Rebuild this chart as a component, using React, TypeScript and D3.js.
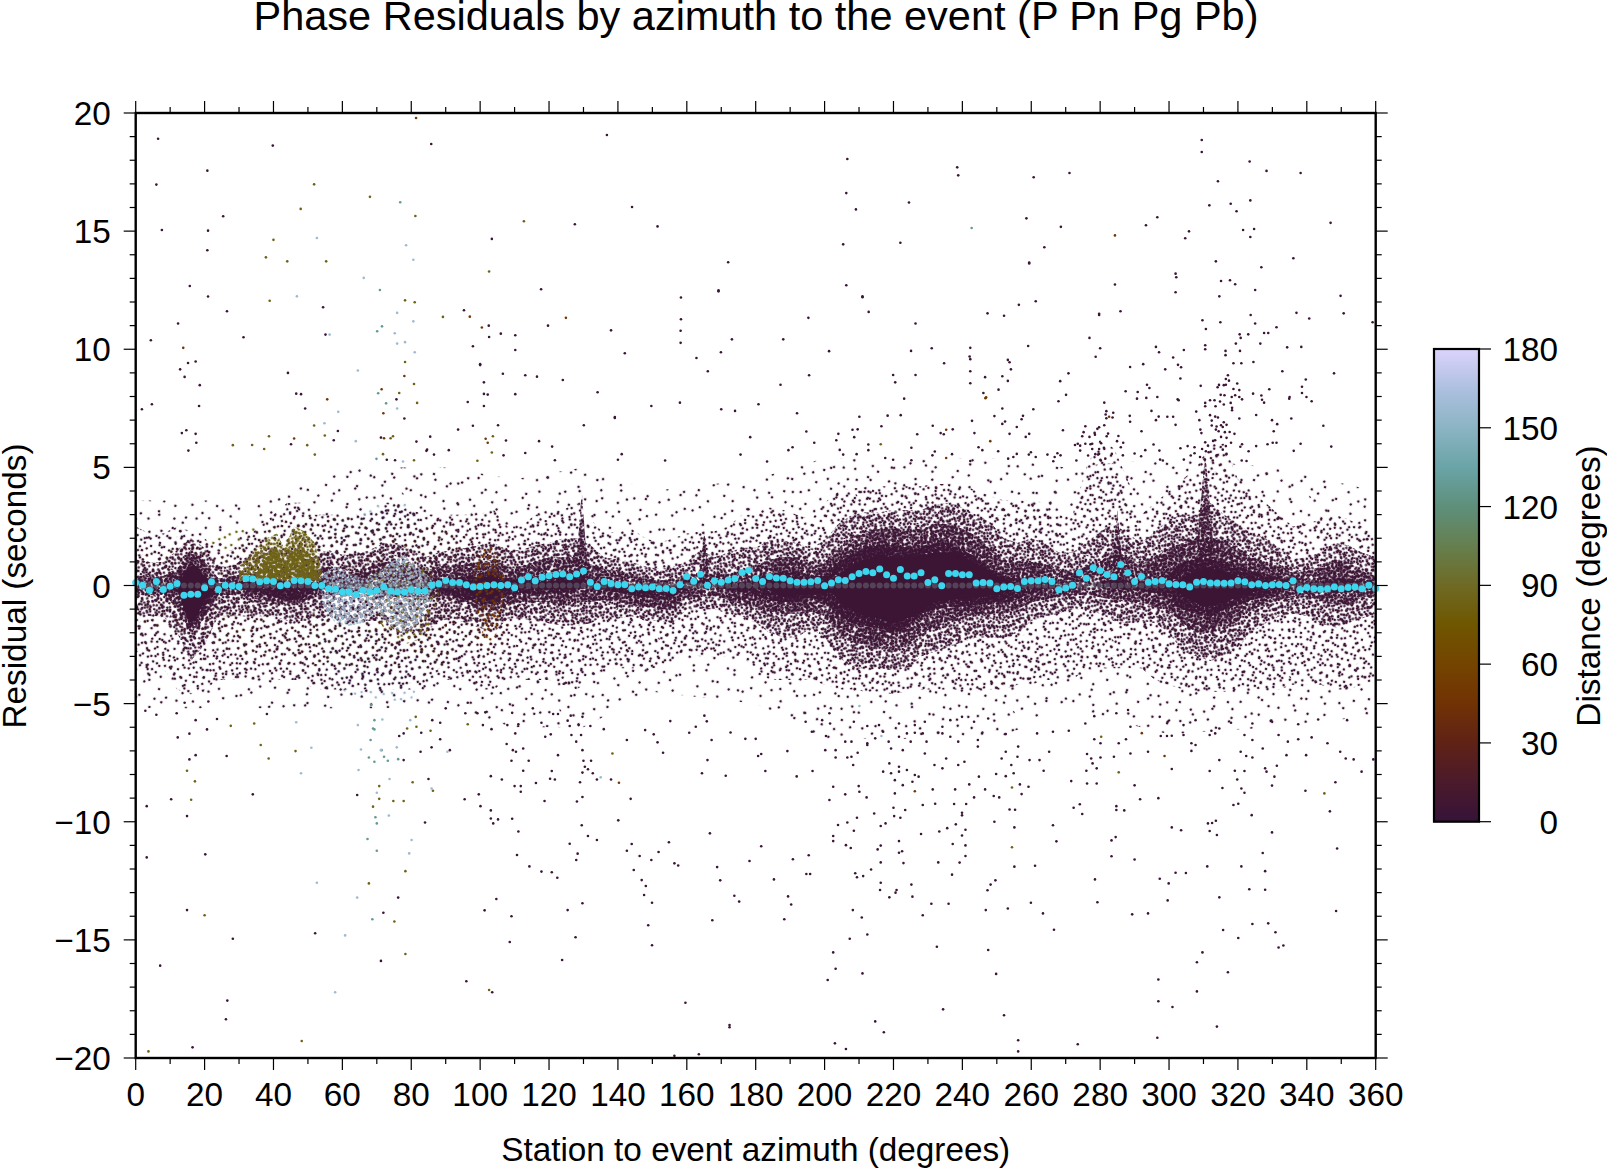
import React from "react";
import * as d3 from "d3";

const TITLE = "Phase Residuals by azimuth to the event (P Pn Pg Pb)";
const X_LABEL = "Station to event azimuth (degrees)";
const Y_LABEL = "Residual (seconds)";
const BAR_LABEL = "Distance (degrees)";

const xMajor = [0,20,40,60,80,100,120,140,160,180,200,220,240,260,280,300,320,340,360];
const xMinor = [10,30,50,70,90,110,130,150,170,190,210,230,250,270,290,310,330,350];
const yMajor = [-20,-15,-10,-5,0,5,10,15,20];
const yMinor = [-19,-18,-17,-16,-14,-13,-12,-11,-9,-8,-7,-6,-4,-3,-2,-1,1,2,3,4,6,7,8,9,11,12,13,14,16,17,18,19];
const barTicks = [0,30,60,90,120,150,180];

const colorDomain = [0,15,30,45,60,75,90,105,120,135,150,165,180];
const colorRange = ["#361339","#4b1a2b","#5f2216","#713204","#744400","#6f5600","#6e6a24","#667f4f","#5e8f7b","#6aa4a7","#8bb4c3","#adc0e0","#dcd3fb"];

// mean residual in 2-degree azimuth bins, azimuth 0..360
const meanResidual = [
.13,.01,-.2,.17,-.17,-.03,.08,-.41,-.37,-.37,-.1,.155,-.17,.01,-.01,-.04,.3,.27,.155,.2,.17,-.01,.04,.21,.2,.17,0,0,-.14,-.155,
-.27,-.27,-.38,-.2,-.28,-.21,-.06,-.24,-.27,-.28,-.18,-.24,-.23,.01,.07,.21,.13,.13,.03,-.06,-.04,0,.03,0,.03,-.1,.23,.37,.2,.35,
.41,.47,.49,.37,.49,.61,.14,-.04,.17,.08,.03,.04,-.14,-.06,-.1,-.06,-.14,-.13,-.21,.03,.38,.18,.48,.01,.2,.14,.23,.3,.55,.65,
.3,.17,.38,.32,.31,.2,.14,.14,.155,.21,-.01,.11,.24,.21,.37,.51,.59,.54,.7,.45,.31,.68,.4,.4,.54,.13,.24,-.01,.51,.51,
.45,.45,.11,.13,.11,-.14,-.06,-.04,-.13,.17,.2,.2,.25,.17,-.18,-.11,.01,.54,.31,.75,.63,.47,.37,.89,.54,.17,.38,.14,.17,.21,
.07,.04,.03,-.06,.14,.17,.11,.11,.1,.11,.2,.155,.03,.07,0,.03,.04,0,.2,-.17,-.08,-.14,-.155,-.14,-.06,-.14,-.08,-.06,-.14,.01,-.13];

// cloud outlines read per 4 degrees of azimuth: sparse / medium / dense / very dense, upper and lower limits
const bandOuterUp = [2.5,2.2,2.2,2.5,2.3,2,1.5,1.5,2,2.5,3,3.5,3.5,3,3,3,3,3,3.5,3.5,3.2,3,3,3,3,3.2,3.2,2.5,2.5,3,3,3.2,3.5,2.8,2.2,2.3,2.4,2,1.8,2,2.2,2.3,2.3,2.5,3,3,3.3,3.2,3,2.8,3.5,4,4.1,4.2,4.2,4.2,4.2,4.2,4.3,4.3,4.3,4,3.8,3.6,3.6,3.6,3.5,3,3,5,6.2,5.8,4.5,3,3.5,4,4.5,5,6,6,4.5,4,3.5,3,2.5,2.6,2.8,3,2.8,2.5,2.3];
const bandOuterDn = [-3.5,-4,-3.5,-4.4,-4.6,-4.4,-4,-4,-4,-4,-4,-4,-4,-4.4,-4.4,-4.4,-4.4,-4.4,-4.4,-4.4,-4.4,-4.4,-4,-4,-4,-4.4,-4.4,-4,-4,-4,-4,-4.2,-4.4,-4,-3.5,-3.5,-3.5,-3.5,-3.5,-3,-2.8,-3,-3,-3,-3,-3.5,-4,-4,-4,-4,-4.2,-4.4,-4.4,-4.5,-4.5,-4.6,-4.5,-4.4,-4.4,-4.4,-4.4,-4.4,-4.4,-4.4,-4.2,-4.2,-4,-4,-4,-3.5,-3.5,-3.5,-3.5,-3.5,-4,-4.2,-4.4,-4.5,-4.5,-4.5,-4.4,-4.4,-4.4,-4.4,-4.2,-4.2,-4.2,-4.4,-4.4,-4.2,-4];
const bandMidUp = [1.1,1,1,1.5,2,1.6,.8,.8,1.2,1.5,1.5,1.5,1.5,1.3,1.5,1.3,1.3,1.5,1.8,1.8,1.5,1.2,1.4,1.5,1.6,1.7,1.8,1.5,1.5,1.7,1.8,2,2,1.7,1.2,1.1,1,.8,.7,.8,1,1.5,1.2,1.4,1.6,1.6,1.9,1.9,1.8,1.6,1.9,2.6,3,3.1,3.1,3.2,3.2,3.2,3.4,3.5,3.3,3,2.7,2,1.8,2,1.8,1.4,1.4,1.8,2.3,2.6,2.2,1.8,2.3,2.8,3,3,3.5,3,2.6,2.2,2,1.6,1.1,1.2,1.4,1.8,1.7,1.4,1.2];
const bandMidDn = [-1.2,-1.3,-1.3,-2,-3.2,-2.5,-1.3,-1.3,-1.3,-1.3,-1.3,-1.5,-1.5,-1.5,-1.3,-1.5,-1.5,-1.5,-1.5,-2,-2,-2,-1.5,-1.4,-1.6,-1.8,-2,-1.4,-1.4,-1.5,-1.6,-1.7,-1.7,-1.6,-1.3,-1.4,-1.3,-1.5,-1.5,-1.6,-1,-1,-1,-1.2,-1.3,-1.6,-2,-2.2,-2.2,-1.8,-2.2,-3,-3.5,-3.5,-3.5,-3.6,-3.5,-3,-2.8,-2.6,-2.4,-2.2,-2.2,-2.2,-2,-1.5,-1.3,-1.2,-1,-1,-1.2,-1.5,-1.6,-1.5,-1.6,-2,-2.8,-3,-3.2,-3,-2.6,-2,-1.6,-1.3,-1.2,-1.3,-1.6,-1.8,-1.6,-1.4,-1.2];
const bandDenseUp = [.4,.4,.4,.7,1.5,1,.3,.4,.5,.6,.7,.7,.7,.6,.8,.5,.5,.8,1,1,.8,.6,.8,.8,.9,1,1.1,.8,.8,1,1.2,1.2,1.2,.9,.7,.6,.5,.3,.2,.3,.4,.5,.5,.5,.6,.9,1.1,1.2,1.2,.9,1,1.6,2.1,2.3,2.4,2.4,2.3,2.4,2.6,2.6,2.4,2.1,1.6,1.1,1,1,.9,.7,.6,.8,1,1.5,1.2,.9,1.2,1.6,1.8,2,2,1.9,1.6,1.2,1,.9,.5,.6,.8,1,1,.6,.4];
const bandDenseDn = [-.4,-.4,-.4,-.9,-2,-1.4,-.4,-.4,-.5,-.6,-.7,-.8,-.7,-.5,-.4,-.4,-.3,-.3,-.4,-.5,-.5,-.5,-.5,-.6,-.7,-1.1,-1.1,-.8,-.7,-.7,-.7,-.8,-.7,-.7,-.6,-.7,-.8,-.9,-1,-1,-.5,-.5,-.4,-.6,-.8,-.9,-1.1,-1.2,-1.2,-1.1,-1.3,-2,-2.4,-2.5,-2.6,-2.8,-2.5,-2,-1.8,-1.5,-1.4,-1.2,-1.2,-1.2,-1,-.7,-.6,-.5,-.4,-.4,-.5,-.6,-.7,-.7,-.9,-1.1,-1.6,-2,-2,-1.8,-1.5,-1,-.8,-.6,-.5,-.5,-.6,-.8,-.8,-.5,-.4];
const bandCoreUp = [0,0,0,.2,1,.5,.1,.1,.15,.2,.2,.2,.2,.1,0,0,0,0,0,0,0,0,.2,.3,.4,.5,.6,.3,.2,.4,.5,.6,.5,.3,.1,.1,0,0,0,0,0,0,0,.1,.1,.2,.5,.6,.6,.4,.4,1,1.3,1.6,1.7,1.7,1.6,1.6,1.8,1.8,1.5,1.2,.7,.4,.3,.2,.2,0,0,0,.1,.3,.2,.2,.3,.6,1,1.1,1.1,1,.8,.6,.5,.3,.1,.1,.1,.3,.3,.1,0];
const bandCoreDn = [0,0,0,-.2,-1.8,-.9,-.1,-.1,-.2,-.3,-.5,-.6,-.6,-.2,0,0,0,0,0,0,0,0,-.2,-.5,-.6,-.7,-.8,-.4,-.3,-.4,-.3,-.3,-.2,-.1,-.2,-.3,-.4,-.5,-.6,-.5,0,0,0,-.2,-.3,-.4,-.6,-.7,-.7,-.5,-.7,-1.2,-1.6,-1.7,-1.8,-2,-1.8,-1.2,-1,-.9,-.9,-.8,-.7,-.7,-.6,-.3,-.2,-.1,0,0,0,-.1,-.2,-.2,-.3,-.6,-1,-1.2,-1.3,-1,-.8,-.6,-.5,-.3,0,0,-.1,-.3,-.3,-.1,0];

// where the cloud closes up completely
const solidAz = [12,15,17,20,24,92,100,104,108,118,126,132,182,188,194,202,206,212,216,220,226,232,238,244,250,258,300,306,310,316,322,330,336,346,350,356];
const solidUp = [0,.7,.9,.3,0,0,.3,.4,0,.15,.25,0,0,.4,.3,.1,.7,1.1,1.3,1.2,1.2,1.4,1.4,.9,.4,0,0,.5,.7,.6,.3,0,0,0,.1,0];
const solidDn = [0,-1.4,-1.5,-.6,0,0,-.5,-.6,0,-.15,-.15,0,0,-.5,-.4,-.3,-.9,-1.3,-1.4,-1.6,-1.3,-.7,-.6,-.5,-.4,0,0,-.6,-.9,-.7,-.4,0,0,0,-.1,0];

// thin scatter between the cloud and the isolated stations
const fringeAz = [0,30,60,90,110,130,150,180,200,250,270,300,330,360];
const fringeUp = [3.6,3.6,5,5,4.5,5,4,4.5,5.4,5.4,5,5.4,5,4];
const fringeDn = [-5.2,-5.2,-5.2,-5.2,-6,-6,-4.5,-5,-6.5,-6.5,-5.2,-6.3,-6,-5.5];

// narrow vertical streaks in the cloud
const streakAz = [129.5,165,285,310.5];
const streakHalfWidth = [2,1.6,2,3.4];
const streakTop = [4,2.4,3.2,5.6];

// coloured parts of the cloud: azimuth, upper limit, lower limit
const oliveDenseAz = [30,34,38,41,43,46,49,52,54];
const oliveDenseHi = [.8,1.4,2,2.2,1.6,2.5,2.3,1.8,.6];
const oliveDenseLo = [.2,.2,.2,.2,.2,.2,.2,.2,.2];
const oliveCoreAz = [35,38,41,43,45,48,51,53];
const oliveCoreHi = [.5,1.2,1.6,.8,1.3,1.7,1.2,.4];
const oliveCoreLo = [.25,.25,.25,.25,.25,.25,.25,.25];
const oliveSparseAz = [0,12,30,56,90,112];
const oliveSparseHi = [1.5,1.5,2.4,3,2.5,.8];
const oliveSparseLo = [-1.5,-2,-3,-3.5,-3.5,-.8];
const oliveMidAz = [66,72,78,84,88];
const oliveMidHi = [.2,.8,1,.8,.2];
const oliveMidLo = [-.5,-1.8,-2.5,-2.2,-.5];
const blueMidAz = [54,58,62,66,70,74,78,82,86];
const blueMidHi = [.5,.8,.5,.3,.5,1,1.3,.8,.2];
const blueMidLo = [-.8,-1.6,-1.7,-1.6,-1.1,-1.7,-2,-1.6,-.6];
const blueSparseAz = [52,60,70,80,88];
const blueSparseHi = [2,3,3.5,3.5,1];
const blueSparseLo = [-2.5,-4.5,-4.9,-4.9,-2];
const brownSparseAz = [66,72,80,88,96,100,106,112];
const brownSparseHi = [1,2,2,1.5,1,1.6,1.6,.5];
const brownSparseLo = [-1,-2.5,-3,-2.5,-1,-3,-3,-.6];
const brownMidAz = [98,101,104,107];
const brownMidHi = [.5,1.6,1.6,.4];
const brownMidLo = [-.5,-2.2,-2.5,-.5];

// stations far from the cloud: [azimuth, residual]; distance class sets the colour
const NEAR_DISTANCE = 4;
const nearPoints: [number, number][] = [
[6.5,18.91],[39.8,18.62],[85.8,18.69],[136.8,19.07],[20.8,17.56],[6,16.97],[144.1,16.02],[25.4,15.63],[127.5,15.29],[151.5,15.2],[7.6,15.05],[21,15.02],[103.4,14.67],[20.8,14.19],[172,13.68],[15.7,12.68],[117.7,12.54],[169.2,12.45],[169.2,12.49],[21,12.23],[158.3,12.19],[54.4,11.78],[26.5,11.61],[95.3,11.65],[12.3,11.09],[158.3,11.27],[119.7,11],[102.5,11],[158.2,10.78],[138,10.8],[55.1,10.62],[106,10.66],[110.2,10.59],[102.6,10.52],[31.3,10.51],[4.4,10.38],[158.2,10.27],[173.1,10.42],[97.9,10.13],[110.2,9.97],[142,9.83],[169.9,9.87],[162.8,9.63],[15.2,9.42],[17.4,9.48],[100,9.37],[100,9.33],[12.9,9.15],[166.1,9.07],[14.2,8.83],[44.2,9],[106.6,8.96],[113.1,8.9],[116.5,8.84],[124,8.7],[101.1,8.6],[18.6,8.48],[46.6,8.12],[48,8.1],[101.1,8.11],[102.2,8.08],[110.2,8.1],[134.1,8.18],[75.7,7.88],[96.4,7.77],[4.7,7.67],[18.4,7.6],[1.8,7.46],[49.2,7.49],[101.1,7.6],[149.7,7.6],[158,7.74],[170,7.46],[174,7.39],[78,7.07],[139.1,7.09],[139.1,7.13],[130.1,6.78],[97.9,6.76],[105.2,6.78],[93.6,6.6],[58.7,6.54],[14.7,6.57],[13.4,6.45],[17.4,6.42],[17.6,6.04],[71.2,6.26],[85.5,6.3],[81.5,6.09],[107.5,6.14],[117.1,6.11],[120.9,5.88],[57.5,6.15],[45.1,5.98],[15.3,5.71],[84.4,5.7],[84.6,5.75],[86.6,5.54],[90.9,5.73],[106.8,5.51],[113.1,5.61],[141.1,5.56],[175.6,5.54],[178.4,6.28],[72.9,5.32],[75.3,5.3],[121.7,5.3],[140,5.32],[153.7,5.29],
[206.6,18.05],[206.3,16.61],[209.1,15.92],[224.5,16.21],[205.4,14.44],[222,14.51],[238.5,17.7],[238.8,17.36],[260.7,17.28],[271.1,17.46],[258.6,15.54],[268.6,15.18],[263.8,14.32],[259.4,13.67],[259.4,13.63],[309.5,18.86],[309.5,18.35],[323.4,17.95],[328.3,17.55],[338.2,17.46],[314.2,17.11],[311.7,16.09],[317.9,16.16],[323.6,16.3],[319.6,15.84],[296.6,15.59],[293.3,15.25],[305.8,14.99],[304.7,14.7],[321.5,15.05],[324.7,15.09],[323.6,14.75],[346.9,15.35],[336.1,13.85],[313.6,13.72],[326.8,13.47],[301.9,13.2],[302.1,13.05],[315.1,12.89],[317.7,12.92],[319.2,12.75],[284.3,12.74],[325,12.51],[206.3,12.71],[211,12.24],[211,12.2],[301.9,12.41],[314.6,12.24],[349.8,12.26],[261.3,12.03],[256.4,11.88],[247.3,11.52],[252.1,11.42],[212.8,11.58],[279.7,11.5],[279.7,11.45],[285.9,11.61],[337,11.54],[350.7,11.52],[340.7,11.3],[323.7,11.45],[195.3,11.33],[226.4,11.09],[309.7,11.23],[314.9,11.14],[310.7,10.86],[325,11.09],[331.2,10.93],[359.1,11.14],[320.5,10.63],[323,10.63],[327.6,10.69],[328.8,10.69],[320.8,10.48],[188,10.42],[276.9,10.48],[319.4,10.24],[326.5,10.24],[259.1,10.14],[296.2,10.1],[310.5,10.17],[310.5,10],[334.3,10.08],[338.4,10.1],[201.3,9.92],[225.1,9.93],[231.1,10.04],[242.3,10.06],[280,10.04],[242.1,9.69],[242.3,9.58],[304.3,9.97],[297.1,9.87],[316.4,9.93],[316.4,9.75],[320.6,9.93],[278.7,9.68],[301.2,9.65],[253.2,9.55],[253.7,9.45],[234.7,9.41],[318.7,9.41],[321,9.41],[324.5,9.46],[292.5,9.37],[288.7,9.25],[302.6,9.34],[303.5,9.24],[254.1,9.15],[298.9,9.15],[242.3,9.07],[332.9,9.07],[270.8,8.98],[226.4,8.91],[219.9,8.91],[195.5,8.9],[347.9,8.98],[246.6,8.82],[251.6,8.86],[303.3,8.76],[253.2,8.66],[268.4,8.65],[220.5,8.6],[242.3,8.56],[187.2,8.5],[339.7,8.72],[317.1,8.9],[316.5,8.74],[317.4,8.67],[319.8,8.55],[293.6,8.5],[294.3,8.36],[309.2,8.45],[314.5,8.49],[314.1,8.39],[315.9,8.48],[316.5,8.5],[338.6,8.41],[318.7,8.32],[320.4,8.27],[329.1,8.31],[250.5,8.29],[287.4,8.22],[290.9,8.19],[246.1,8.15],[338.6,8.15],[324.4,8.12],[270.1,8.07],[315,8.07],[316.1,8.05],[319.2,8.05],[318.2,7.98],[320.4,7.98],[321.2,7.88],[326.8,8.04],[327,7.86],[327.6,7.74],[339.9,7.98],[341.4,7.8],[335,7.98],[334.9,7.91],[223.1,7.91],[290.7,7.91],[293.4,7.94],[296.6,7.98],[302.5,7.88],[302.8,7.84],[267.9,7.8],[281.2,7.74],[180.8,7.67],[310.5,7.73],[310.5,7.59],[311.9,7.84],[313.2,7.84],[314.8,7.79],[313.5,7.59],[315.9,7.66],[317.9,7.73],[318.3,7.52],[318.3,7.42],[251.6,7.49],[260.6,7.46],[281.8,7.38],[281.6,7.24],[283.8,7.31],[283.6,7.11],[281.8,7.08],[294.9,7.39],[307.9,7.36],[192,7.29],[249.3,7.17],[210.1,7.14],[218.3,7.19],[222.1,7.21],[288.6,7.18],[297,7.15],[299.5,7.14],[301.2,7.14],[296.2,7],[311.9,7.21],[313.4,7.15],[314.2,7.11],[308.8,7],[320.4,7.07],[325.3,7.22],[329.9,7],[335.5,7.07],[242.8,6.97],[257.2,7.04],[257.6,7.18],[252.4,6.94],[251.6,6.84],[288.7,6.93],[301.9,6.8],[331.4,6.83],[344.8,6.76],[312.4,6.98],[315.9,6.91],[315.1,6.78],[312.4,6.77],[316.7,6.8],[313.8,6.73],[315.6,6.71],[231.4,6.76],[237.2,6.61],[216.5,6.74],[255.8,6.71],[281.2,6.78],[275.7,6.74],[279.7,6.7],[279.2,6.63],[208.1,6.59],[209.6,6.61],[194.7,6.52],[243.5,6.45],[233.7,6.45],[234.6,6.4],[226.9,6.4],[204,6.42],[208.6,6.28],[253.7,6.42],[259.4,6.42],[258.4,6.29],[269.2,6.57],[275.2,6.49],[278.4,6.46],[282.3,6.43],[292,6.53],[309.1,6.6],[309.4,6.45],[313.6,6.6],[314.4,6.53],[316.2,6.49],[317.6,6.5],[319,6.42],[330.4,6.53],[274.8,6.32],[276.9,6.29],[278.5,6.38],[281.9,6.32],[285.3,6.33],[315.1,6.29],[316.7,6.25],[313.4,6.15],[203.4,6.15],[197,6.04],[212.7,5.97],[212.7,5.73],[204.4,5.74],[205.4,5.54],[209.3,5.56],[190.7,5.85],[189.5,5.73],[183.3,5.25],[225.2,5.83],[219.9,5.32],[217.6,5.4],[225.2,5.3],[244.7,5.85],[245.8,5.73],[250.4,5.68],[231.3,5.51],[232,5.67],[237,5.56],[242.3,5.27],[272.7,5.95],[273.5,6],[274.2,5.92],[275.7,6],[277.2,5.98],[277.7,6],[280.3,6.02],[284.9,6.11],[286.7,6.04],[295.5,5.97],[274.2,5.71],[277.7,5.78],[279.7,5.78],[281.1,5.83],[286,5.85],[283.4,5.57],[286.6,5.51],[290,5.59],[291.9,5.47],[293.1,5.73],[297.2,5.71],[303.3,5.81],[305.4,5.9],[307.4,5.85],[306.3,5.5],[307.4,5.6],[309.6,5.78],[310.5,6.06],[311.3,5.92],[312.8,6.12],[316.5,5.9],[318,6.04],[321.2,5.98],[320.7,5.87],[323.1,5.68],[325.3,5.9],[328.6,5.98],[330.1,6.04],[331.2,6.04],[338.2,6],[347.1,5.88],[336.2,5.7],[253.3,5.37],[254.8,5.44],[255.8,5.57],[259.3,5.54],[259.9,5.64],[261.3,5.44],[264.7,5.54],[266.8,5.44],[267.6,5.6],[268.5,5.51],[266.4,5.26],[273.1,5.29],[276.5,5.5],[278.6,5.56],[279.4,5.54],[280.2,5.29],[281.5,5.37],[297.4,5.33],[298.2,5.29],[304.3,5.33],[309,5.44],[310.4,5.33],[311.5,5.64],[312.7,5.29],[313.8,5.51],[316.7,5.57],[321.1,5.29],[322.5,5.27],[310.7,5.68],[315.6,5.75],
[2.8,-5.3],[6,-5.47],[11.9,-5.41],[17.4,-5.7],[23.6,-5.65],[20.7,-6.09],[15.6,-6.27],[12.2,-6.43],[17.4,-7.18],[15.6,-7.36],[26.4,-7.22],[38.1,-5.44],[14.2,-4.96],[21.1,-4.91],[34,-8.84],[10.3,-9.05],[3.2,-9.34],[14.9,-9.76],[3.2,-11.51],[20.2,-11.38],[14.9,-13.74],[28.2,-14.95],[7.1,-16.09],[26.6,-17.57],[26.2,-18.36],[16.5,-19.55],[52.1,-14.72],[64.3,-8.87],[76.2,-13.21],[71.9,-13.85],[71.2,-15.89],[96,-16.75],[103.5,-17.22],[104.7,-13.27],[101.3,-13.75],[109.1,-14],[129.7,-13.45],[125.4,-13.74],[108.6,-15.09],[127.7,-14.89],[123.8,-15.85],[148.8,-14.38],[149.9,-15.23],[149.9,-13.43],[147.6,-13.1],[148.1,-12.72],[146.9,-12.47],[144.6,-12.04],[149.7,-11.62],[151.8,-11.28],[146.3,-11.45],[142.6,-11.23],[144,-10.94],[154.8,-10.87],[156.4,-11.76],[157.5,-11.85],[168.8,-11.92],[169.7,-12.48],[178.2,-11.66],[185.3,-12.44],[190.8,-11.59],[195.4,-11.42],[194.7,-12.21],[195.8,-12.21],[181.6,-11.04],[166.7,-10.49],[173.8,-13.13],[175.2,-13.38],[189.4,-13.16],[190.3,-13.5],[167.4,-14.17],[188.3,-14.13],[159.6,-17.66],[172.4,-18.7],[172.4,-18.6],[156.4,-19.91],[163.5,-19.84],[208.2,-13.74],[210.8,-14.05],[212.4,-14.77],[207.3,-14.95],[202.5,-15.53],[203.2,-16.22],[200.9,-16.7],[211,-16.42],[214.7,-18.45],[217.2,-18.91],[203,-19.38],[206.2,-19.62],[234.4,-17.94],[252.1,-18.19],[256.2,-19.25],[256.2,-19.72],[273.5,-19.42],[232.6,-15.29],[247.5,-15.43],[249.8,-16.44],[228.5,-13.96],[246.8,-13.74],[253.2,-13.67],[259.9,-13.43],[263.4,-13.88],[266.6,-14.57],[236,-13.47],[231,-13.47],[225.5,-13.17],[218.8,-13.2],[220.9,-12.89],[220.6,-13],[216.1,-12.89],[225.2,-12.66],[216.3,-12.58],[247.3,-12.9],[248.2,-12.66],[249.6,-12.48],[237,-12.24],[208.9,-12.18],[209.4,-12.35],[211.2,-12.3],[213.5,-12.02],[216.3,-11.72],[222.9,-11.75],[233,-11.72],[239.2,-11.73],[255.1,-11.9],[261.1,-11.86],[240.9,-11.45],[221.6,-11.31],[222.5,-11.25],[215.4,-11.17],[216.3,-11.01],[207.6,-11.11],[206.2,-10.99],[221.6,-10.82],[237.2,-10.94],[240.9,-11],[202.5,-10.6],[202.5,-10.82],[228,-10.52],[233.3,-10.41],[235.6,-10.27],[240.9,-10.34],[239.9,-10.58],[238.1,-10.11],[249.3,-10],[255.1,-10.24],[266.3,-10.15],[267.3,-10.83],[283.3,-10.79],[284.5,-10.65],[283.3,-11.46],[290,-11.6],[278.5,-12.44],[279.2,-13.41],[289.3,-13.92],[293.9,-13.88],[297.3,-12.41],[299.9,-12.61],[301.9,-12.16],[304.9,-12.17],[299.6,-13.33],[311.1,-11.89],[321,-11.89],[327.9,-12.09],[314.6,-13.2],[323.3,-12.86],[327.9,-12.88],[324.2,-14.33],[328.8,-14.3],[330.9,-14.68],[315.7,-14.58],[320.1,-14.92],[331.8,-15.32],[333.2,-15.24],[309.7,-15.53],[308.1,-15.95],[317.1,-16.37],[296.9,-16.68],[308.1,-17.18],[296.9,-17.6],[301,-17.84],[313.9,-18.67],[296.6,-19.14],[348.5,-13.78],[327.2,-11.32],[348.8,-11.13],[313.6,-9.96],[311.3,-10.07],[312.5,-10.05],[300.8,-10.24],[303.5,-10.36],[311.8,-10.39],[313.9,-10.56],[329.9,-10.45],[324,-9.72],[346.7,-9.56],[318.7,-9.29],[320.1,-9.24],[296.9,-9],[291.6,-9.05],[284.7,-9.34],[284.7,-9.5],[287,-9.52],[272.3,-9.41],[274.1,-9.26],[274.8,-9.67],[253.7,-9.48],[255.3,-9.49],[239.9,-9.62],[239.9,-9.73],[237.6,-9.25],[241.1,-9.25],[232.1,-9.24],[228.5,-9.29],[220,-9.41],[223.4,-9.5],[214.4,-9.65],[222,-9.83],[220.2,-9.76],[209.4,-9.83],[206.6,-10.03],[203.9,-10.14],[216.3,-10.18],[217.7,-10.07],[208.5,-10.38],[143.7,-9.03],[129.7,-8.95],[128.1,-9.14],[118.7,-9.12],[95.5,-9.05],[99.6,-8.84],[100.1,-9.34],[103.1,-9.52],[103.1,-9.86],[105.2,-9.9],[103.8,-10.07],[109.3,-9.87],[84,-10.03],[111.1,-10.41],[129.5,-10.15],[140.1,-9.94],[131.3,-10.6],[133.9,-10.77],[126,-10.93],[128.3,-11.35],[127.9,-11.62],[110.7,-11.41],[114.3,-11.89],[117.8,-12.11],[120.8,-12.14],[122.4,-12.37],
[85,-8.19],[110.2,-6.26],[107.7,-6.71],[109.5,-6.97],[112.5,-6.9],[110.4,-7.04],[109.1,-7.42],[114.1,-7.42],[112.5,-7.84],[103.1,-8.07],[106.3,-8.21],[110,-8.49],[111.8,-8.49],[111.8,-8.73],[116.2,-8.36],[120.8,-7.85],[120.3,-8.18],[121.7,-8.21],[129,-8.33],[129.7,-7.92],[130.4,-7.67],[130,-7.42],[132.2,-7.42],[131.3,-7.78],[132.7,-7.95],[133.9,-8.21],[138,-8.21],[122.6,-7.18],[129.7,-6.97],[127.9,-6.61],[126.5,-6.33],[129.3,-6.33],[126,-5.95],[128.6,-5.91],[132,-5.95],[125.4,-5.72],[129.7,-5.56],[126.3,-5.51],[122.6,-5.44],[121.2,-5.44],[117.8,-5.81],[111.1,-5.87],[107.9,-5.91],[103.3,-6.08],[100.8,-5.91],[118.9,-6.4],[120.5,-6.3],[135.9,-6.08],[142.6,-6.54],[147.9,-6.12],[150.4,-6.3],[151.5,-6.64],[153.1,-7.08],[155.2,-5.74],[160.7,-6.23],[162.6,-5.98],[165.1,-5.51],[165.8,-5.75],[167.2,-6.54],[172.7,-6.22],[177,-6.49],[180,-6.49],[189.2,-7.01],[181.6,-7.13],[180.7,-7.22],[166,-7.39],[164.4,-7.95],[171.3,-8.05],[182.8,-7.85],[191.9,-8.08],[196.5,-7.85],[91.2,-6.97],[82.7,-7.04],[85.9,-6.85],[88.4,-6.51],[76.5,-6.37],[77.8,-7.39],[77.8,-6.26],[82.9,-6.23],[86.1,-5.7],[88.4,-5.81],[90,-5.2],[96.4,-4.96],[99.2,-5.41],[101.5,-5.37],[109.3,-5.39],[115.3,-5.2],[95.7,-5.41],
[196.3,-6.19],[194.5,-5.77],[199.3,-5.7],[201.4,-5.41],[201.6,-5.84],[208.5,-5.77],[212.4,-5.95],[215.8,-5.91],[221.6,-5.84],[226.2,-5.91],[229.1,-5.77],[234.2,-5.98],[236.5,-5.7],[239.9,-5.56],[243.4,-5.77],[247.5,-5.63],[200.4,-6.37],[206,-6.61],[207.8,-6.61],[212.4,-6.68],[217,-6.19],[214.7,-6.47],[218.6,-6.61],[221.6,-6.4],[223.9,-6.26],[226.2,-6.23],[228.5,-6.26],[225,-6.61],[219.3,-6.9],[222.7,-6.97],[229.6,-6.61],[234.2,-6.26],[236.5,-6.4],[238.8,-6.61],[244.5,-6.54],[252.6,-6.29],[256.2,-6.82],[261.7,-6.26],[266.3,-6.19],[200.2,-6.97],[203.2,-6.97],[203.2,-7.28],[206.6,-7.28],[207.8,-7.25],[209.6,-7.08],[212.4,-6.75],[208.3,-7.6],[229.1,-7.11],[231.9,-7.6],[234.2,-7.74],[238.8,-7.6],[240.6,-7.46],[235.3,-7.32],[244.5,-6.82],[252.6,-7.04],[251.4,-7.32],[256,-7.25],[259.5,-7.39],[262.4,-7.39],[265.2,-7.04],[254.2,-7.6],[254.9,-7.95],[252.6,-8.07],[263.6,-7.84],[218.8,-7.53],[221.6,-7.67],[217,-7.88],[221.6,-7.88],[219.3,-7.95],[223.9,-7.81],[226.2,-8.02],[227.3,-8.09],[225.5,-8.31],[220.4,-8.24],[222.7,-8.45],[202.5,-8.52],[209.9,-8.49],[210.1,-8.73],[206,-8.84],[212.2,-8.97],[201.4,-9.08],[220.4,-8.8],[231.4,-8.63],[237.9,-8.63],[242,-8.42],[244.8,-8.09],[246.6,-8.63],[243.4,-8.97],[249.1,-8.91],[250.7,-8.97],[257.2,-8.83],[256.7,-8.42],[259.2,-8.52],[249.8,-7.98],
[270.9,-6.15],[275.7,-5.84],[278.3,-5.53],[284.7,-5.41],[288.8,-5.98],[288.1,-5.27],[297.3,-5.56],[299.6,-5.77],[304.2,-5.91],[307.7,-5.7],[312.3,-6.15],[314.6,-6.05],[318,-5.81],[324.2,-5.84],[329.7,-5.72],[337.5,-5.87],[343.3,-5.67],[351.7,-5.7],[278.3,-6.51],[280.1,-6.68],[285.4,-6.68],[287.5,-6.51],[297.6,-6.37],[299.4,-6.37],[300.8,-6.36],[304.2,-6.33],[306.5,-6.68],[307.7,-6.75],[311.8,-6.33],[313.4,-6.26],[321.9,-6.33],[324.2,-6.54],[327.2,-6.9],[331.8,-6.33],[334.5,-6.61],[337.5,-6.51],[341.4,-6.43],[346,-6.68],[306.5,-7],[320.8,-7.04],[322.4,-7.22],[324.2,-7.28],[334.1,-7.18],[339.8,-7.18],[349.7,-7.04],[351.3,-7.32],[353.6,-7.36],[359.3,-7.36],[276.2,-7.13],[277.4,-7.32],[277.8,-7.53],[279,-7.74],[276,-7.84],[280.1,-7.28],[284,-7.25],[288.8,-7.11],[293.9,-7.04],[300.8,-7.77],[311.8,-7.85],[314.6,-7.39],[319.1,-7.84],[321.9,-7.85],[327.9,-7.74],[328.3,-7.88],[331.3,-7.63],[330.6,-8.09],[319.8,-8.21],[355.9,-7.88],[348.3,-8.33],[329.9,-8.47],[315.5,-8.57],[321,-8.59],[321.9,-8.77],[339.6,-8.69],[290,-8.46],[279,-8.38],[276.2,-8.38],[271.6,-8.28]];

const BROWN_DISTANCE = 48;
const brownPoints: [number, number][] = [
[81.4,19.79],[13.8,10.06],[78,8.87],[71.4,8.31],[55.6,7.88],[71.9,7.29],[124.9,11.33],[97,11.38],[100.5,10.92],[46,6.22],[101.6,6.21],[72.1,6.23],[102.2,6.04],[235.3,6.59],[248.1,6.11],[235.3,5.4],[246.7,7.93],[246.9,7.97],[282.6,7.14],[284.3,14.82],[140.3,-8.35],[226.2,-8.71],[298.7,-7.22],[292.1,-6.25]];

const OLIVE_DISTANCE = 84;
const olivePoints: [number, number][] = [
[51.8,16.98],[68,16.45],[47.9,15.94],[81.2,15.64],[112.7,15.42],[40,14.63],[37.8,13.89],[44,13.72],[55.3,13.72],[102.6,13.29],[38.9,12.05],[78.2,12.07],[81,11.99],[89.2,11.37],[78.2,9.46],[80.8,8.53],[76.5,8.15],[81.7,7.73],[51.8,6.77],[38.7,6.32],[54.9,6.35],[74.7,6.32],[74,6.23],[103.7,6.32],[28.2,5.94],[33.8,5.95],[37.3,5.78],[49.8,5.94],[52,5.54],[71.8,5.56],[103.4,5.63],[99.2,5.28],[80.8,5.3],[216.3,5.98],
[3.7,-19.72],[48.2,-19.28],[102.6,-17.12],[78.3,-15.6],[20,-13.96],[75.1,-14.22],[67.7,-12.61],[78.3,-12.09],[16.1,-9.07],[17.2,-8.29],[14.9,-7.84],[38.6,-7.32],[46.4,-7.01],[36.3,-6.75],[27.6,-5.94],[34.4,-5.84],[80.4,-8.33],[70.7,-8.49],[68.9,-9.36],[74.8,-9.12],[77.8,-9.12],[70.7,-9.03],[86.3,-8.69],[81.3,-5.56],[85.6,-6.15],[78.8,-6.05],[81.5,-5.98],[96.4,-5.87],[254.4,-11.08],[345.1,-8.8],[285.4,-7.91],[280.3,-6.4],[254.4,-8.55],[138.4,-7.11]];

const TEAL_DISTANCE = 128;
const tealPoints: [number, number][] = [
[76.8,16.22],[70.9,12.51],[71.5,10.97],[70.1,10.76],[70.4,8.14],[72.7,7.71],[69.9,5.36],[242.7,15.13],
[68.7,-14.13],[70,-11.23],[67.3,-10.73],[70,-10.07],[69.6,-9.81],[67.7,-7.28],[72.1,-7.25],[71.4,-6.97],[76.2,-7.35],[73.2,-7.42],[69.3,-7.46],[68.2,-6.54],[69.3,-6.09],[68.9,-6.05],[68.4,-5.06],[69.3,-5.7]];

const BLUE_DISTANCE = 158;
const bluePoints: [number, number][] = [
[52.6,14.71],[78.5,14.4],[80.6,13.79],[66.2,13.02],[46.8,12.24],[75.9,11.54],[80.6,11.18],[75.2,10.68],[56.3,10.62],[75.9,10.24],[78.2,10.3],[81,9.87],[64.5,9.1],[75.9,7.49],[58.8,7.35],[54.8,6.87],[63.9,6.11],[77.6,5.25],
[57.9,-17.22],[60.8,-14.81],[52.6,-12.58],[64.3,-13.21],[48,-7.95],[51,-6.87],[46.6,-5.79],[64.7,-7.81],[65.4,-6.94],[64.5,-5.91],[71.6,-5.67],[79.7,-5.7],[75.8,-6.85],[71.2,-6.97],[90.5,-7.04],[85.9,-8.59],[79.4,-11.34],[80.1,-10.77],[73.5,-9.74],[73.7,-8.19],[70,-8.77],[135,-8.12],[210.1,-5.1],[216.5,-6.37]];

// hand-placed dots of the stipple texture (style only: in a 64 px tile)
const stippleDots = [[2,4],[9,1],[13,9],[21,3],[26,11],[33,2],[38,8],[47,5],[50,13],[58,2],[62,9],[5,15],[11,19],[18,14],[24,21],[30,17],[36,15],[43,19],[46,11],[54,20],[60,17],[1,26],[7,24],[15,28],[20,25],[28,31],[34,24],[39,29],[45,26],[52,30],[57,25],[63,28],[4,36],[10,33],[17,39],[23,35],[31,38],[37,41],[42,34],[49,37],[55,42],[61,35],[3,46],[8,43],[14,50],[22,45],[27,48],[35,51],[40,47],[47,44],[53,50],[59,47],[6,56],[12,60],[19,55],[25,61],[32,58],[38,62],[44,56],[51,60],[57,55],[63,61]];
const tiles = [
  { w: 64, h: 64, s: 1, dx: 0, dy: 0, rot: 13 },
  { w: 71, h: 59, s: 1, dx: 17, dy: 23, rot: -27 },
  { w: 59, h: 67, s: 1, dx: 37, dy: 11, rot: 38 },
  { w: 67, h: 61, s: 1, dx: 5, dy: 41, rot: -8 },
  { w: 34, h: 31, s: 0.5, dx: 3, dy: 7, rot: 21 },
  { w: 29, h: 35, s: 0.5, dx: 13, dy: 2, rot: -33 },
  { w: 37, h: 33, s: 0.5, dx: 21, dy: 17, rot: 52 },
  { w: 31, h: 37, s: 0.5, dx: 9, dy: 27, rot: -61 },
  { w: 35, h: 29, s: 0.5, dx: 25, dy: 5, rot: 71 },
  { w: 33, h: 36, s: 0.5, dx: 15, dy: 13, rot: 4 },
  { w: 38, h: 30, s: 0.5, dx: 1, dy: 19, rot: -44 },
  { w: 30, h: 34, s: 0.5, dx: 19, dy: 9, rot: 29 },
  { w: 36, h: 32, s: 0.5, dx: 7, dy: 3, rot: -15 },
  { w: 130, h: 126, s: 2, dx: 11, dy: 31, rot: 17 },
  { w: 122, h: 134, s: 2, dx: 47, dy: 3, rot: -36 },
];
const FRINGE = [13, 14];
const SPARSE = [0, 1];
const MEDIUM = [2, 3, 4];
const DENSE = [5, 6, 7];
const CORE = [8, 9, 10, 11, 12, 4];

const W = 1607, H = 1168;
const plot = { l: 135.7, r: 1375.7, t: 113, b: 1058 };
const bar = { l: 1434, r: 1479, t: 349, b: 821.7 };
const FONT = "'Liberation Sans', Arial, Helvetica, sans-serif";
const FS = 33.3;
const CYAN = "#3cd6ee";
const DOT_R = 1.3;

const x = d3.scaleLinear().domain([0, 360]).range([plot.l, plot.r]);
const y = d3.scaleLinear().domain([-20, 20]).range([plot.b, plot.t]);
const barY = d3.scaleLinear().domain([0, 180]).range([bar.b, bar.t]);
const colorOf = d3.scaleLinear<string>().domain(colorDomain).range(colorRange);

const bandAz = d3.range(0, 361, 4);
const meanAz = d3.range(0, 361, 2);
const fmt = (v: number) => String(v).replace("-", "\u2212");

const band = (az: number[], hi: number[], lo: number[]) =>
  d3.area<number>().x((d) => x(d)).y0((_, i) => y(lo[i])).y1((_, i) => y(hi[i]))(az) || "";

const dotColors = {
  near: colorOf(NEAR_DISTANCE),
  brown: colorOf(BROWN_DISTANCE),
  olive: colorOf(OLIVE_DISTANCE),
  blue: colorOf(BLUE_DISTANCE),
};

function Stipple({ d, tone, use }: { d: string; tone: string; use: number[] }) {
  return <>{use.map((i) => <path key={i} d={d} fill={`url(#${tone}-${i})`} />)}</>;
}

function Dots({ pts, fill }: { pts: [number, number][]; fill: string }) {
  return (
    <g fill={fill}>
      {pts.map((p, i) => <circle key={i} cx={x(p[0])} cy={y(p[1])} r={DOT_R} />)}
    </g>
  );
}

export default function App() {
  const fringe = band(fringeAz, fringeUp, fringeDn);
  const outer = band(bandAz, bandOuterUp, bandOuterDn);
  const mid = band(bandAz, bandMidUp, bandMidDn);
  const dense = band(bandAz, bandDenseUp, bandDenseDn);
  const core = band(bandAz, bandCoreUp, bandCoreDn);
  const text = { fontFamily: FONT, fontSize: FS, fill: "#000" } as const;
  return (
    <svg width={W} height={H} viewBox={`0 0 ${W} ${H}`} style={{ position: "absolute", left: 0, top: 0, display: "block", background: "#fff" }}>
      <defs>
        {Object.entries(dotColors).map(([tone, c]) =>
          tiles.map((t, i) => (
            <pattern key={tone + i} id={`${tone}-${i}`} patternUnits="userSpaceOnUse" width={t.w} height={t.h} patternTransform={`translate(${t.dx} ${t.dy}) rotate(${t.rot})`}>
              {stippleDots.map((p, j) => <circle key={j} cx={p[0] * t.s} cy={p[1] * t.s} r={DOT_R} fill={c} />)}
            </pattern>
          ))
        )}
        <linearGradient id="distanceBar" x1="0" y1="1" x2="0" y2="0">
          {colorDomain.map((v, i) => <stop key={v} offset={v / 180} stopColor={colorRange[i]} />)}
        </linearGradient>
        <clipPath id="plotClip"><rect x={plot.l} y={plot.t} width={plot.r - plot.l} height={plot.b - plot.t} /></clipPath>
      </defs>

      <g clipPath="url(#plotClip)">
        <Stipple d={band(blueSparseAz, blueSparseHi, blueSparseLo)} tone="blue" use={[0, 13, 14]} />
        <Stipple d={band(oliveSparseAz, oliveSparseHi, oliveSparseLo)} tone="olive" use={[0]} />
        <Stipple d={band(brownSparseAz, brownSparseHi, brownSparseLo)} tone="brown" use={[0]} />

        <Stipple d={fringe} tone="near" use={FRINGE} />
        <Stipple d={outer} tone="near" use={SPARSE} />
        <Stipple d={mid} tone="near" use={MEDIUM} />
        <Stipple d={dense} tone="near" use={DENSE} />
        <Stipple d={core} tone="near" use={CORE} />
        <path d={band(solidAz, solidUp, solidDn)} fill={dotColors.near} />
        {streakAz.map((c, i) => (
          <Stipple key={c} d={band([c - streakHalfWidth[i], c, c + streakHalfWidth[i]], [0, streakTop[i], 0], [0, 0, 0])} tone="near" use={DENSE} />
        ))}

        <Stipple d={band(oliveMidAz, oliveMidHi, oliveMidLo)} tone="olive" use={[2, 3]} />
        <Stipple d={band(oliveDenseAz, oliveDenseHi, oliveDenseLo)} tone="olive" use={[...MEDIUM, 5]} />
        <Stipple d={band(oliveCoreAz, oliveCoreHi, oliveCoreLo)} tone="olive" use={[...DENSE, 8, 9]} />
        <Stipple d={band(brownMidAz, brownMidHi, brownMidLo)} tone="brown" use={[2, 3, 1]} />
        <Stipple d={band(blueMidAz, blueMidHi, blueMidLo)} tone="blue" use={[2, 4]} />

        <Dots pts={nearPoints} fill={dotColors.near} />
        <Dots pts={brownPoints} fill={dotColors.brown} />
        <Dots pts={olivePoints} fill={dotColors.olive} />
        <Dots pts={tealPoints} fill={colorOf(TEAL_DISTANCE)} />
        <Dots pts={bluePoints} fill={dotColors.blue} />

        <g fill="#7f9a9a" opacity={0.35}>
          {meanAz.map((a) => <circle key={a} cx={x(a)} cy={y(0)} r={3} />)}
        </g>
      </g>
      <g fill={CYAN}>
        {meanAz.map((a, i) => <circle key={a} cx={x(a)} cy={y(meanResidual[i])} r={3.5} />)}
      </g>

      <rect x={plot.l} y={plot.t} width={plot.r - plot.l} height={plot.b - plot.t} fill="none" stroke="#000" strokeWidth={2.4} />
      <g stroke="#000" strokeWidth={1.2}>
        {xMajor.map((v) => (
          <g key={v}>
            <line x1={x(v)} x2={x(v)} y1={plot.b} y2={plot.b + 12} />
            <line x1={x(v)} x2={x(v)} y1={plot.t} y2={plot.t - 12} />
          </g>
        ))}
        {xMinor.map((v) => (
          <g key={v}>
            <line x1={x(v)} x2={x(v)} y1={plot.b} y2={plot.b + 6} />
            <line x1={x(v)} x2={x(v)} y1={plot.t} y2={plot.t - 6} />
          </g>
        ))}
        {yMajor.map((v) => (
          <g key={v}>
            <line x1={plot.l} x2={plot.l - 12} y1={y(v)} y2={y(v)} />
            <line x1={plot.r} x2={plot.r + 12} y1={y(v)} y2={y(v)} />
          </g>
        ))}
        {yMinor.map((v) => (
          <g key={v}>
            <line x1={plot.l} x2={plot.l - 6} y1={y(v)} y2={y(v)} />
            <line x1={plot.r} x2={plot.r + 6} y1={y(v)} y2={y(v)} />
          </g>
        ))}
      </g>

      {xMajor.map((v) => (
        <text key={v} {...text} x={x(v)} y={1105.5} textAnchor="middle">{v}</text>
      ))}
      {yMajor.map((v) => (
        <text key={v} {...text} x={110.8} y={y(v) + 12} textAnchor="end">{fmt(v)}</text>
      ))}

      <text {...text} fontSize={41.5} x={756} y={30} textAnchor="middle">{TITLE}</text>
      <text {...text} x={755.7} y={1161} textAnchor="middle">{X_LABEL}</text>
      <text {...text} transform="translate(26 586) rotate(-90)" textAnchor="middle">{Y_LABEL}</text>

      <rect x={bar.l} y={bar.t} width={bar.r - bar.l} height={bar.b - bar.t} fill="url(#distanceBar)" stroke="#000" strokeWidth={2.2} />
      <g stroke="#000" strokeWidth={1.2}>
        {barTicks.map((v) => <line key={v} x1={bar.r} x2={bar.r + 12} y1={barY(v)} y2={barY(v)} />)}
      </g>
      {barTicks.map((v) => (
        <text key={v} {...text} x={1558} y={barY(v) + 12} textAnchor="end">{v}</text>
      ))}
      <text {...text} transform="translate(1600 586) rotate(-90)" textAnchor="middle">{BAR_LABEL}</text>
    </svg>
  );
}
